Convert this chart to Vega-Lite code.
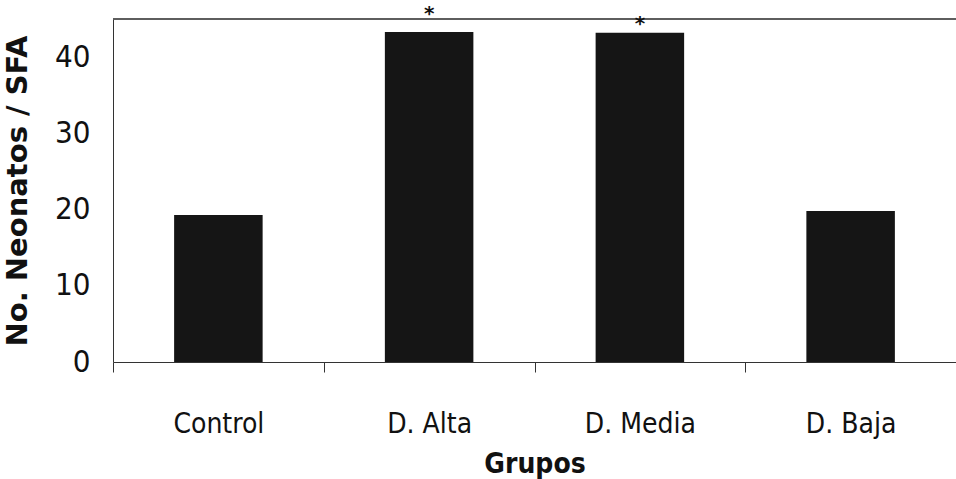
{
  "$schema": "https://vega.github.io/schema/vega-lite/v6.json",
  "autosize": "none",
  "width": 843,
  "height": 343,
  "padding": {"left": 113, "top": 19, "right": 0, "bottom": 117},
  "background": "white",
  "config": {"view": {"stroke": null}},
  "data": {
    "values": [
      {"grupo": "Control", "valor": 19.3, "sig": "", "sigpos": 0},
      {"grupo": "D. Alta", "valor": 43.3, "sig": "*", "sigpos": 45.6},
      {"grupo": "D. Media", "valor": 43.2, "sig": "*", "sigpos": 44.3},
      {"grupo": "D. Baja", "valor": 19.8, "sig": "", "sigpos": 0}
    ]
  },
  "layer": [
    {
      "mark": {"type": "bar", "color": "#151515", "width": {"band": 0.42}},
      "encoding": {
        "x": {
          "field": "grupo",
          "type": "nominal",
          "sort": null,
          "scale": {"paddingInner": 0, "paddingOuter": 0},
          "axis": {
            "title": "Grupos",
            "labelAngle": 0,
            "labelFont": "'DejaVu Sans Condensed', 'Liberation Sans'",
            "labelFontSize": 28,
            "labelColor": "#111",
            "labelPadding": 38,
            "tickBand": "extent",
            "tickSize": 10,
            "tickColor": "#333",
            "domainColor": "#333",
            "titleFont": "'DejaVu Sans Condensed', 'Liberation Sans'",
            "titleFontSize": 28,
            "titleFontWeight": "bold",
            "titleColor": "#111",
            "titlePadding": 12
          }
        },
        "y": {
          "field": "valor",
          "type": "quantitative",
          "scale": {"domain": [0, 45], "nice": false},
          "axis": {
            "title": "No. Neonatos / SFA",
            "values": [0, 10, 20, 30, 40],
            "grid": false,
            "ticks": false,
            "labelFont": "'DejaVu Sans Condensed', 'Liberation Sans'",
            "labelFontSize": 31,
            "labelColor": "#111",
            "labelPadding": 23,
            "domainColor": "#333",
            "titleFont": "DejaVu Sans",
            "titleFontSize": 29,
            "titleFontWeight": "bold",
            "titleColor": "#111",
            "titlePadding": 22
          }
        }
      }
    },
    {
      "mark": {"type": "rule", "color": "#555", "strokeWidth": 1},
      "encoding": {"y": {"datum": 45}}
    },
    {
      "mark": {"type": "text", "fontSize": 20, "fontWeight": "bold", "color": "#111", "baseline": "middle", "font": "DejaVu Sans"},
      "encoding": {
        "x": {"field": "grupo", "type": "nominal", "sort": null},
        "y": {"field": "sigpos", "type": "quantitative"},
        "text": {"field": "sig"}
      }
    }
  ]
}
